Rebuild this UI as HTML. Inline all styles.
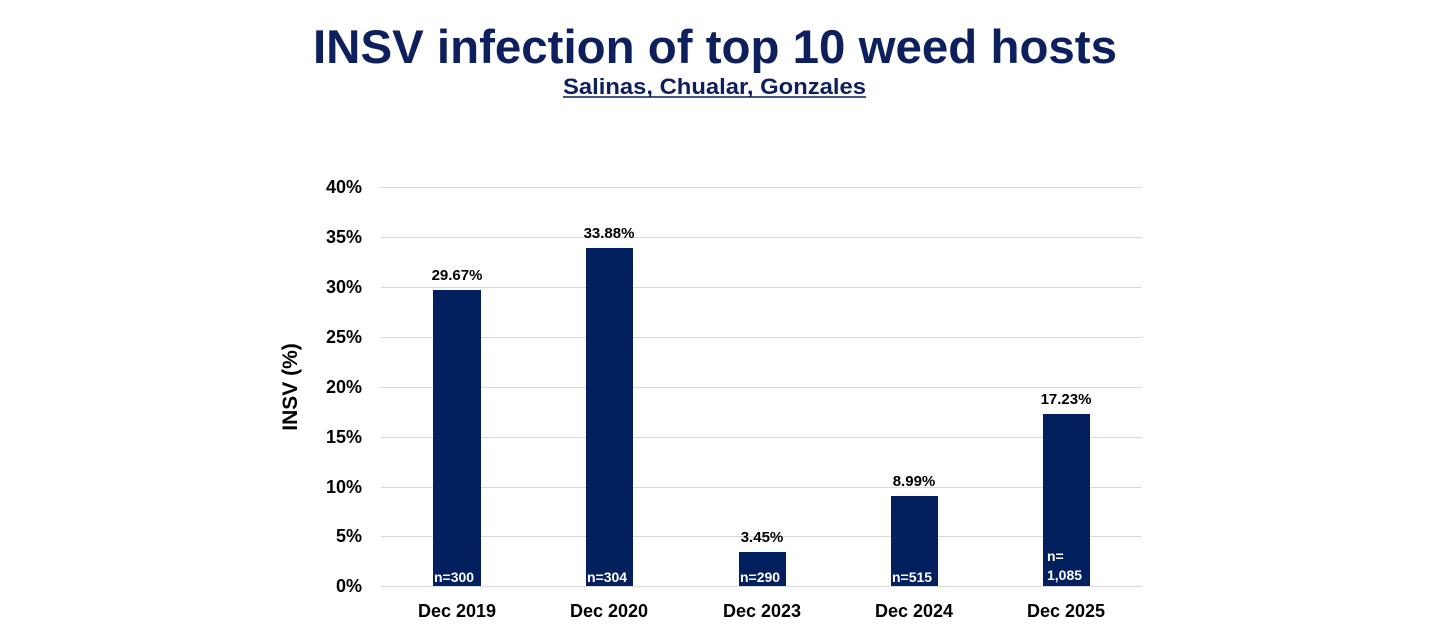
<!DOCTYPE html>
<html><head><meta charset="utf-8"><style>
body{margin:0;background:#fff;}
svg{display:block;font-family:"Liberation Sans",Arial,sans-serif;font-weight:bold;}
</style></head><body>
<svg width="1430" height="632" viewBox="0 0 1430 632">
<text x="313" y="63" textLength="804" lengthAdjust="spacingAndGlyphs" font-size="47" fill="#0d1f5c">INSV infection of top 10 weed hosts</text>
<text x="563" y="94" textLength="303" lengthAdjust="spacingAndGlyphs" font-size="22" fill="#0d1f5c">Salinas, Chualar, Gonzales</text>
<line x1="563" y1="97" x2="866" y2="97" stroke="#0d1f5c" stroke-width="1.5"/>
<g stroke="#d9d9d9" stroke-width="1">
<line x1="381" y1="187.5" x2="1142" y2="187.5"/>
<line x1="381" y1="237.5" x2="1142" y2="237.5"/>
<line x1="381" y1="287.5" x2="1142" y2="287.5"/>
<line x1="381" y1="337.5" x2="1142" y2="337.5"/>
<line x1="381" y1="387.5" x2="1142" y2="387.5"/>
<line x1="381" y1="437.5" x2="1142" y2="437.5"/>
<line x1="381" y1="487.5" x2="1142" y2="487.5"/>
<line x1="381" y1="536.5" x2="1142" y2="536.5"/>
<line x1="381" y1="586.5" x2="1142" y2="586.5"/>
</g>
<g font-size="18" fill="#000" text-anchor="end">
<text x="362" y="193">40%</text>
<text x="362" y="243">35%</text>
<text x="362" y="293">30%</text>
<text x="362" y="343">25%</text>
<text x="362" y="393">20%</text>
<text x="362" y="443">15%</text>
<text x="362" y="493">10%</text>
<text x="362" y="542">5%</text>
<text x="362" y="592">0%</text>
</g>
<text transform="translate(297,387) rotate(-90)" text-anchor="middle" font-size="21" fill="#000">INSV (%)</text>
<g fill="#03205e">
<rect x="433" y="290" width="48" height="296"/>
<rect x="586" y="248" width="47" height="338"/>
<rect x="739" y="552" width="47" height="34"/>
<rect x="891" y="496" width="47" height="90"/>
<rect x="1043" y="414" width="47" height="172"/>
</g>
<g font-size="15" fill="#000" text-anchor="middle">
<text x="457" y="280">29.67%</text>
<text x="609" y="238">33.88%</text>
<text x="762" y="542">3.45%</text>
<text x="914" y="486">8.99%</text>
<text x="1066" y="404">17.23%</text>
</g>
<g font-size="14" fill="#fff">
<text x="434" y="582">n=300</text>
<text x="587" y="582">n=304</text>
<text x="740" y="582">n=290</text>
<text x="892" y="582">n=515</text>
<text x="1047" y="561">n=</text>
<text x="1047" y="580">1,085</text>
</g>
<g font-size="18" fill="#000" text-anchor="middle">
<text x="457" y="617">Dec 2019</text>
<text x="609" y="617">Dec 2020</text>
<text x="762" y="617">Dec 2023</text>
<text x="914" y="617">Dec 2024</text>
<text x="1066" y="617">Dec 2025</text>
</g>
</svg>
</body></html>
